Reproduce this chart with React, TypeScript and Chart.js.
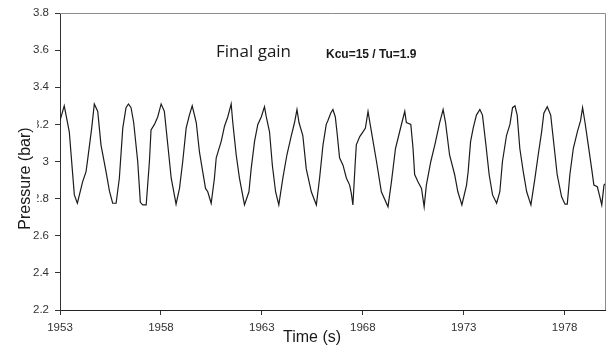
import React, { useEffect, useRef } from "react";
import { Chart, registerables } from "chart.js";

Chart.register(...registerables);

const TIME = [
  1953.00, 1953.21, 1953.46, 1953.71, 1953.86, 1954.12, 1954.29, 1954.37, 1954.57, 1954.70,
  1954.87, 1955.03, 1955.28, 1955.45, 1955.61, 1955.78, 1955.94, 1956.11, 1956.27, 1956.39,
  1956.52, 1956.65, 1956.85, 1956.98, 1957.10, 1957.27, 1957.43, 1957.51, 1957.68, 1957.84,
  1958.01, 1958.17, 1958.34, 1958.51, 1958.75, 1958.92, 1959.08, 1959.25, 1959.41, 1959.55,
  1959.75, 1959.91, 1960.07, 1960.21, 1960.32, 1960.49, 1960.65, 1960.74, 1960.99, 1961.15,
  1961.31, 1961.48, 1961.56, 1961.73, 1961.89, 1962.14, 1962.36, 1962.47, 1962.64, 1962.80,
  1962.97, 1963.13, 1963.22, 1963.38, 1963.52, 1963.68, 1963.84, 1964.04, 1964.24, 1964.46,
  1964.62, 1964.74, 1964.84, 1965.03, 1965.20, 1965.45, 1965.70, 1965.86, 1966.03,
  1966.19, 1966.27, 1966.41, 1966.52, 1966.64, 1966.74, 1966.85, 1967.02, 1967.19, 1967.35,
  1967.43, 1967.51, 1967.63, 1967.68, 1967.85, 1968.01, 1968.13, 1968.26, 1968.43, 1968.68,
  1968.92, 1969.25, 1969.42, 1969.62, 1969.78, 1969.94, 1970.08, 1970.16, 1970.38, 1970.49,
  1970.57, 1970.74, 1970.91, 1971.04, 1971.15, 1971.37, 1971.57, 1971.81, 1971.98, 1972.10,
  1972.30, 1972.55, 1972.71, 1972.91,
  1973.14, 1973.22, 1973.34, 1973.47, 1973.63, 1973.80, 1973.93, 1974.10, 1974.26, 1974.43,
  1974.63, 1974.79, 1974.92, 1975.12, 1975.29, 1975.42, 1975.54, 1975.65, 1975.78, 1975.95,
  1976.12, 1976.33, 1976.53, 1976.69, 1976.86, 1976.97, 1977.14, 1977.31, 1977.47, 1977.63,
  1977.85, 1978.02, 1978.13, 1978.26, 1978.43, 1978.63, 1978.79, 1978.89, 1979.01, 1979.17,
  1979.34, 1979.45, 1979.62, 1979.72, 1979.84, 1979.95, 1980.00,
];

const PRESSURE = [
  3.22, 3.30, 3.16, 2.82, 2.775, 2.89, 2.945, 3.01, 3.18, 3.31,
  3.27, 3.09, 2.945, 2.84, 2.775, 2.775, 2.91, 3.18, 3.29, 3.31,
  3.29, 3.21, 3.00, 2.78, 2.766, 2.766, 3.00, 3.17, 3.20, 3.24,
  3.31, 3.27, 3.09, 2.91, 2.77, 2.855, 3.00, 3.18, 3.25, 3.30,
  3.21, 3.05, 2.945, 2.855, 2.837, 2.775, 2.91, 3.02, 3.11, 3.19,
  3.24, 3.31, 3.21, 3.035, 2.91, 2.766, 2.837, 2.96, 3.11, 3.20,
  3.24, 3.295, 3.24, 3.16, 2.98, 2.837, 2.766, 2.91, 3.035, 3.14,
  3.21, 3.28, 3.21, 3.14, 2.96, 2.837, 2.766, 2.91, 3.09,
  3.20, 3.22, 3.26, 3.28, 3.24, 3.14, 3.02, 2.98, 2.91, 2.873,
  2.83, 2.766, 3.00, 3.09, 3.134, 3.16, 3.18, 3.27, 3.16, 3.00,
  2.837, 2.756, 2.89, 3.07, 3.14, 3.21, 3.27, 3.21, 3.20, 3.07,
  2.93, 2.89, 2.855, 2.756, 2.873, 3.00, 3.09, 3.21, 3.28, 3.21,
  3.035, 2.93, 2.837, 2.766,
  2.873, 2.945, 3.107, 3.18, 3.25, 3.28, 3.25, 3.09, 2.93, 2.82,
  2.775, 2.837, 3.00, 3.14, 3.20, 3.29, 3.30, 3.25, 3.07, 2.945,
  2.837, 2.766, 2.91, 3.035, 3.16, 3.26, 3.295, 3.25, 3.09, 2.93,
  2.81, 2.77, 2.77, 2.93, 3.07, 3.16, 3.22, 3.29, 3.21, 3.09,
  2.96, 2.873, 2.864, 2.82, 2.766, 2.873, 2.88,
];

const X_TICKS = [1953, 1958, 1963, 1968, 1973, 1978];
const Y_TICKS = [2.2, 2.4, 2.6, 2.8, 3.0, 3.2, 3.4, 3.6, 3.8];
const Y_TICK_LABELS = ["2.2", "2.4", "2.6", "2.8", "3", "3.2", "3.4", "3.6", "3.8"];

const TITLE = "Final gain";
const SUBTITLE = "Kcu=15 / Tu=1.9";
const X_TITLE = "Time (s)";
const Y_TITLE = "Pressure (bar)";

const FONT = "'Liberation Sans', Arial, sans-serif";

export default function App() {
  const ref = useRef<HTMLCanvasElement | null>(null);

  useEffect(() => {
    document.body.style.margin = "0";
    const canvas = ref.current;
    if (!canvas) return;

    const overlay = {
      id: "overlay",
      beforeDatasetsDraw(chart: any) {
        const { ctx, chartArea } = chart;
        ctx.save();
        ctx.strokeStyle = "#8c8c8c";
        ctx.lineWidth = 1;
        ctx.beginPath();
        ctx.moveTo(chartArea.left, chartArea.top + 0.5);
        ctx.lineTo(chartArea.right + 0.5, chartArea.top + 0.5);
        ctx.lineTo(chartArea.right + 0.5, chartArea.bottom);
        ctx.stroke();
        ctx.restore();
      },
      afterDraw(chart: any) {
        const { ctx } = chart;
        ctx.save();
        ctx.fillStyle = "#1a1a1a";
        ctx.textBaseline = "alphabetic";
        ctx.textAlign = "left";
        ctx.font = "17px 'Open Sans', Lato, sans-serif";
        ctx.fillText(TITLE, 216, 57);
        ctx.font = "bold 12px " + FONT;
        ctx.fillText(SUBTITLE, 326, 58);

        // x title
        ctx.font = "16px " + FONT;
        const wx = ctx.measureText(X_TITLE).width;
        ctx.fillStyle = "#ffffff";
        ctx.fillRect(312 - wx / 2 - 3, 326, wx + 6, 23);
        ctx.fillStyle = "#1a1a1a";
        ctx.textAlign = "center";
        ctx.textBaseline = "middle";
        ctx.fillText(X_TITLE, 312, 338);

        // y title
        ctx.translate(25.5, 178.5);
        ctx.rotate(-Math.PI / 2);
        ctx.fillStyle = "#ffffff";
        ctx.fillRect(-49, -10, 110, 21.5);
        ctx.fillStyle = "#1a1a1a";
        ctx.fillText(Y_TITLE, 0, 0);
        ctx.restore();
      },
    };

    const chart = new Chart(canvas, {
      type: "line",
      data: {
        datasets: [
          {
            data: TIME.map((t, i) => ({ x: t, y: PRESSURE[i] })),
            borderColor: "#1c1c1c",
            borderWidth: 1.2,
            pointRadius: 0,
            tension: 0,
            fill: false,
          },
        ],
      },
      options: {
        responsive: false,
        animation: false,
        events: [],
        layout: { padding: { left: 0, right: 8, top: 13, bottom: 0 } },
        plugins: { legend: { display: false }, tooltip: { enabled: false } },
        scales: {
          x: {
            type: "linear",
            min: 1953,
            max: 1980,
            afterBuildTicks: (s: any) => {
              s.ticks = X_TICKS.map((v) => ({ value: v }));
            },
            afterFit: (s: any) => {
              s.height = 39;
            },
            ticks: {
              autoSkip: false,
              maxRotation: 0,
              padding: 6,
              color: "#333333",
              font: { family: FONT, size: 11.5 },
              callback: (v: any) => String(v),
            },
            grid: { drawOnChartArea: false, drawTicks: true, tickLength: 5, color: "#333333" },
            border: { color: "#222222", width: 1 },
          },
          y: {
            type: "linear",
            min: 2.2,
            max: 3.8,
            afterBuildTicks: (s: any) => {
              s.ticks = Y_TICKS.map((v) => ({ value: v }));
            },
            afterFit: (s: any) => {
              s.width = 60;
            },
            ticks: {
              autoSkip: false,
              padding: 6,
              color: "#333333",
              font: { family: FONT, size: 11.5 },
              callback: (_v: any, i: number) => Y_TICK_LABELS[i],
            },
            grid: { drawOnChartArea: false, drawTicks: true, tickLength: 5, color: "#333333" },
            border: { color: "#333333", width: 1 },
          },
        },
      },
      plugins: [overlay],
    } as any);

    return () => chart.destroy();
  }, []);

  return (
    <div style={{ width: 613, height: 349 }}>
      <canvas ref={ref} width={613} height={349} style={{ display: "block" }} />
    </div>
  );
}
